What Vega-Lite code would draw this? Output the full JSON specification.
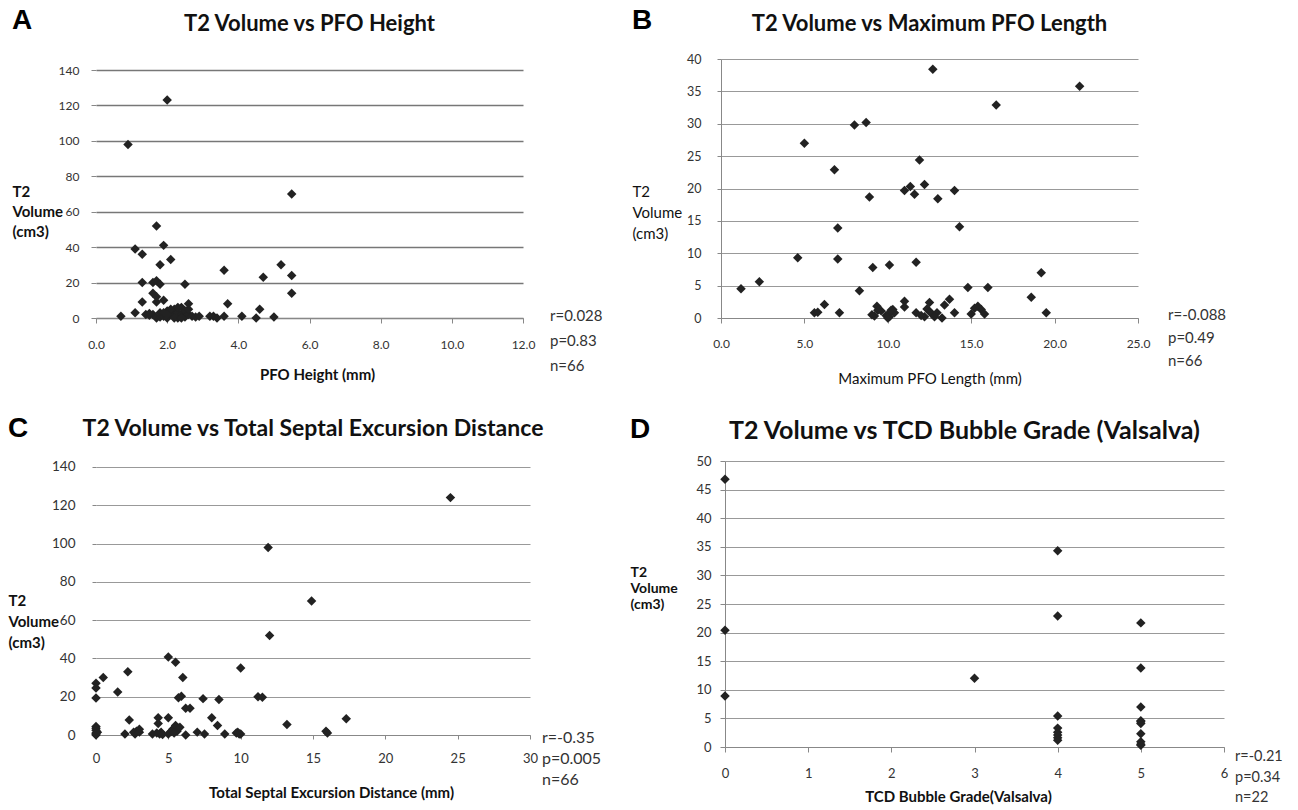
{
  "$schema": "https://vega.github.io/schema/vega-lite/v6.json",
  "padding": {"left": 8, "top": 7, "right": 0, "bottom": 0},
  "background": "white",
  "config": {
    "view": {"stroke": null},
    "font": "Lato",
    "axis": {"labelFont": "Lato", "titleFont": "Lato", "labelColor": "#333", "titleColor": "#111", "domainColor": "#888", "tickColor": "#888", "labelFlush": false, "labelOverlap": false}
  },
  "datasets": {
    "A": [
      {"pfo_height": 0.9, "t2_volume": 98}, {"pfo_height": 2.0, "t2_volume": 123}, {"pfo_height": 5.5, "t2_volume": 70}, {"pfo_height": 1.7, "t2_volume": 52},
      {"pfo_height": 1.1, "t2_volume": 39}, {"pfo_height": 1.3, "t2_volume": 36}, {"pfo_height": 1.9, "t2_volume": 41}, {"pfo_height": 2.1, "t2_volume": 33},
      {"pfo_height": 1.8, "t2_volume": 30}, {"pfo_height": 1.3, "t2_volume": 20}, {"pfo_height": 1.6, "t2_volume": 20}, {"pfo_height": 1.7, "t2_volume": 21},
      {"pfo_height": 1.8, "t2_volume": 19}, {"pfo_height": 2.5, "t2_volume": 19}, {"pfo_height": 3.6, "t2_volume": 27}, {"pfo_height": 4.7, "t2_volume": 23},
      {"pfo_height": 5.2, "t2_volume": 30}, {"pfo_height": 5.5, "t2_volume": 24}, {"pfo_height": 5.5, "t2_volume": 14}, {"pfo_height": 1.3, "t2_volume": 9},
      {"pfo_height": 1.6, "t2_volume": 14}, {"pfo_height": 1.7, "t2_volume": 9}, {"pfo_height": 1.9, "t2_volume": 10}, {"pfo_height": 2.6, "t2_volume": 8},
      {"pfo_height": 3.7, "t2_volume": 8}, {"pfo_height": 4.6, "t2_volume": 5}, {"pfo_height": 0.7, "t2_volume": 1}, {"pfo_height": 1.1, "t2_volume": 3},
      {"pfo_height": 3.2, "t2_volume": 1}, {"pfo_height": 3.3, "t2_volume": 1}, {"pfo_height": 3.4, "t2_volume": 0}, {"pfo_height": 3.6, "t2_volume": 1},
      {"pfo_height": 4.1, "t2_volume": 1}, {"pfo_height": 4.5, "t2_volume": 0}, {"pfo_height": 5.0, "t2_volume": 0.5}, {"pfo_height": 1.7, "t2_volume": 12},
      {"pfo_height": 1.4, "t2_volume": 2}, {"pfo_height": 1.5, "t2_volume": 1.5}, {"pfo_height": 1.6, "t2_volume": 2}, {"pfo_height": 1.7, "t2_volume": 0},
      {"pfo_height": 1.8, "t2_volume": 3}, {"pfo_height": 1.8, "t2_volume": 0.5}, {"pfo_height": 1.9, "t2_volume": 1}, {"pfo_height": 2.0, "t2_volume": 4},
      {"pfo_height": 2.0, "t2_volume": 0}, {"pfo_height": 2.1, "t2_volume": 2}, {"pfo_height": 2.2, "t2_volume": 5}, {"pfo_height": 2.2, "t2_volume": 1},
      {"pfo_height": 2.3, "t2_volume": 3}, {"pfo_height": 2.3, "t2_volume": 0}, {"pfo_height": 2.4, "t2_volume": 6}, {"pfo_height": 2.4, "t2_volume": 2},
      {"pfo_height": 2.5, "t2_volume": 4}, {"pfo_height": 2.5, "t2_volume": 0.5}, {"pfo_height": 2.6, "t2_volume": 2}, {"pfo_height": 2.7, "t2_volume": 1},
      {"pfo_height": 2.8, "t2_volume": 0.5}, {"pfo_height": 2.2, "t2_volume": 0}, {"pfo_height": 2.1, "t2_volume": 5}, {"pfo_height": 1.9, "t2_volume": 3},
      {"pfo_height": 2.4, "t2_volume": 0}, {"pfo_height": 2.3, "t2_volume": 6}, {"pfo_height": 2.6, "t2_volume": 5}, {"pfo_height": 1.5, "t2_volume": 2.5},
      {"pfo_height": 2.9, "t2_volume": 1}, {"pfo_height": 2.0, "t2_volume": 2}
    ],
    "B": [
      {"max_pfo_length": 1.2, "t2_volume": 4.5}, {"max_pfo_length": 2.3, "t2_volume": 5.6}, {"max_pfo_length": 5.0, "t2_volume": 27.0}, {"max_pfo_length": 4.6, "t2_volume": 9.3},
      {"max_pfo_length": 6.8, "t2_volume": 22.9}, {"max_pfo_length": 7.0, "t2_volume": 13.9}, {"max_pfo_length": 7.0, "t2_volume": 9.1}, {"max_pfo_length": 8.0, "t2_volume": 29.8},
      {"max_pfo_length": 8.7, "t2_volume": 30.2}, {"max_pfo_length": 8.3, "t2_volume": 4.2}, {"max_pfo_length": 8.9, "t2_volume": 18.7}, {"max_pfo_length": 9.1, "t2_volume": 7.8},
      {"max_pfo_length": 10.1, "t2_volume": 8.2}, {"max_pfo_length": 11.0, "t2_volume": 19.7}, {"max_pfo_length": 11.35, "t2_volume": 20.3}, {"max_pfo_length": 11.6, "t2_volume": 19.1},
      {"max_pfo_length": 11.9, "t2_volume": 24.4}, {"max_pfo_length": 12.2, "t2_volume": 20.6}, {"max_pfo_length": 12.7, "t2_volume": 38.4}, {"max_pfo_length": 13.0, "t2_volume": 18.4},
      {"max_pfo_length": 11.7, "t2_volume": 8.6}, {"max_pfo_length": 14.0, "t2_volume": 19.7}, {"max_pfo_length": 14.3, "t2_volume": 14.1}, {"max_pfo_length": 14.8, "t2_volume": 4.7},
      {"max_pfo_length": 21.5, "t2_volume": 35.8}, {"max_pfo_length": 16.5, "t2_volume": 32.9}, {"max_pfo_length": 19.2, "t2_volume": 7.0}, {"max_pfo_length": 16.0, "t2_volume": 4.7},
      {"max_pfo_length": 18.6, "t2_volume": 3.2}, {"max_pfo_length": 19.5, "t2_volume": 0.8},
      {"max_pfo_length": 5.6, "t2_volume": 0.8}, {"max_pfo_length": 5.8, "t2_volume": 0.9}, {"max_pfo_length": 6.2, "t2_volume": 2.1}, {"max_pfo_length": 7.1, "t2_volume": 0.8},
      {"max_pfo_length": 9.05, "t2_volume": 0.5}, {"max_pfo_length": 9.35, "t2_volume": 1.8}, {"max_pfo_length": 9.6, "t2_volume": 1.1}, {"max_pfo_length": 9.9, "t2_volume": 0.4},
      {"max_pfo_length": 10.1, "t2_volume": 0.7}, {"max_pfo_length": 10.1, "t2_volume": 0.2}, {"max_pfo_length": 10.4, "t2_volume": 0.8}, {"max_pfo_length": 10.3, "t2_volume": 1.3},
      {"max_pfo_length": 11.0, "t2_volume": 2.6}, {"max_pfo_length": 11.0, "t2_volume": 1.7}, {"max_pfo_length": 11.7, "t2_volume": 0.8}, {"max_pfo_length": 12.2, "t2_volume": 0.2},
      {"max_pfo_length": 12.35, "t2_volume": 1.4}, {"max_pfo_length": 12.5, "t2_volume": 2.4}, {"max_pfo_length": 12.65, "t2_volume": 0.6}, {"max_pfo_length": 12.95, "t2_volume": 0.8},
      {"max_pfo_length": 13.25, "t2_volume": 0.0}, {"max_pfo_length": 13.4, "t2_volume": 2.0}, {"max_pfo_length": 13.7, "t2_volume": 2.9}, {"max_pfo_length": 14.0, "t2_volume": 0.8},
      {"max_pfo_length": 15.0, "t2_volume": 0.6}, {"max_pfo_length": 15.4, "t2_volume": 1.8}, {"max_pfo_length": 15.6, "t2_volume": 1.3}, {"max_pfo_length": 15.8, "t2_volume": 0.6},
      {"max_pfo_length": 9.4, "t2_volume": 1.2}, {"max_pfo_length": 10.2, "t2_volume": 1.2}, {"max_pfo_length": 12.5, "t2_volume": 1.0}, {"max_pfo_length": 12.0, "t2_volume": 0.4},
      {"max_pfo_length": 10.0, "t2_volume": 0.0}, {"max_pfo_length": 9.2, "t2_volume": 0.3}, {"max_pfo_length": 15.2, "t2_volume": 1.5}, {"max_pfo_length": 12.8, "t2_volume": 0.2}
    ],
    "C": [
      {"septal_excursion": 11.9, "t2_volume": 98}, {"septal_excursion": 14.9, "t2_volume": 70}, {"septal_excursion": 12.0, "t2_volume": 52}, {"septal_excursion": 10.0, "t2_volume": 35},
      {"septal_excursion": 5.0, "t2_volume": 40.7}, {"septal_excursion": 5.5, "t2_volume": 38}, {"septal_excursion": 6.0, "t2_volume": 30}, {"septal_excursion": 2.2, "t2_volume": 33},
      {"septal_excursion": 0.5, "t2_volume": 30}, {"septal_excursion": 0, "t2_volume": 27}, {"septal_excursion": 0, "t2_volume": 24.5}, {"septal_excursion": 0, "t2_volume": 19.3},
      {"septal_excursion": 1.5, "t2_volume": 22.5}, {"septal_excursion": 5.7, "t2_volume": 19.5}, {"septal_excursion": 5.9, "t2_volume": 20.2}, {"septal_excursion": 7.4, "t2_volume": 19},
      {"septal_excursion": 8.5, "t2_volume": 18.5}, {"septal_excursion": 6.2, "t2_volume": 14}, {"septal_excursion": 6.5, "t2_volume": 14}, {"septal_excursion": 11.2, "t2_volume": 20},
      {"septal_excursion": 11.5, "t2_volume": 19.7}, {"septal_excursion": 13.2, "t2_volume": 5.5}, {"septal_excursion": 24.5, "t2_volume": 124}, {"septal_excursion": 17.3, "t2_volume": 8.5},
      {"septal_excursion": 16.0, "t2_volume": 1}, {"septal_excursion": 15.9, "t2_volume": 2},
      {"septal_excursion": 0, "t2_volume": 4.5}, {"septal_excursion": 0, "t2_volume": 2.5}, {"septal_excursion": 0, "t2_volume": 1}, {"septal_excursion": 0, "t2_volume": 0},
      {"septal_excursion": 0, "t2_volume": 3.5}, {"septal_excursion": 2.0, "t2_volume": 0.5}, {"septal_excursion": 2.3, "t2_volume": 7.8}, {"septal_excursion": 2.7, "t2_volume": 0.5},
      {"septal_excursion": 2.8, "t2_volume": 2}, {"septal_excursion": 3.0, "t2_volume": 3}, {"septal_excursion": 3.9, "t2_volume": 0.5}, {"septal_excursion": 4.3, "t2_volume": 9},
      {"septal_excursion": 4.3, "t2_volume": 6}, {"septal_excursion": 4.4, "t2_volume": 0.5}, {"septal_excursion": 5.0, "t2_volume": 9}, {"septal_excursion": 5.0, "t2_volume": 0.5},
      {"septal_excursion": 5.3, "t2_volume": 3}, {"septal_excursion": 5.5, "t2_volume": 5}, {"septal_excursion": 5.7, "t2_volume": 3.5}, {"septal_excursion": 6.2, "t2_volume": 0},
      {"septal_excursion": 7.0, "t2_volume": 1.5}, {"septal_excursion": 7.5, "t2_volume": 0.5}, {"septal_excursion": 8.0, "t2_volume": 9}, {"septal_excursion": 8.4, "t2_volume": 5},
      {"septal_excursion": 8.9, "t2_volume": 0.5}, {"septal_excursion": 9.7, "t2_volume": 1}, {"septal_excursion": 9.9, "t2_volume": 0.5}, {"septal_excursion": 10.0, "t2_volume": 0.5},
      {"septal_excursion": 4.5, "t2_volume": 1.5}, {"septal_excursion": 5.2, "t2_volume": 1.8}, {"septal_excursion": 4.2, "t2_volume": 1}, {"septal_excursion": 2.6, "t2_volume": 1.5},
      {"septal_excursion": 0, "t2_volume": 0.5}, {"septal_excursion": 5.6, "t2_volume": 2}, {"septal_excursion": 4.6, "t2_volume": 0.3}, {"septal_excursion": 5.4, "t2_volume": 1},
      {"septal_excursion": 0.1, "t2_volume": 1.5}, {"septal_excursion": 9.8, "t2_volume": 1.5}, {"septal_excursion": 5.8, "t2_volume": 4}, {"septal_excursion": 3.0, "t2_volume": 1.5}
    ],
    "D": [
      {"tcd_grade": 0, "t2_volume": 46.8}, {"tcd_grade": 0, "t2_volume": 20.4}, {"tcd_grade": 0, "t2_volume": 8.9}, {"tcd_grade": 3, "t2_volume": 12.0},
      {"tcd_grade": 4, "t2_volume": 34.3}, {"tcd_grade": 4, "t2_volume": 22.9}, {"tcd_grade": 4, "t2_volume": 5.4}, {"tcd_grade": 4, "t2_volume": 3.3},
      {"tcd_grade": 4, "t2_volume": 2.6}, {"tcd_grade": 4, "t2_volume": 2.1}, {"tcd_grade": 4, "t2_volume": 1.6}, {"tcd_grade": 4, "t2_volume": 1.2},
      {"tcd_grade": 5, "t2_volume": 21.7}, {"tcd_grade": 5, "t2_volume": 13.8}, {"tcd_grade": 5, "t2_volume": 7.0}, {"tcd_grade": 5, "t2_volume": 4.6},
      {"tcd_grade": 5, "t2_volume": 4.1}, {"tcd_grade": 5, "t2_volume": 4.4}, {"tcd_grade": 5, "t2_volume": 2.3}, {"tcd_grade": 5, "t2_volume": 0.9},
      {"tcd_grade": 5, "t2_volume": 0.5}, {"tcd_grade": 5, "t2_volume": 0.3}
    ]
  },
  "columns": 1,
  "align": "none",
  "spacing": 28,
  "concat": [
    {
      "columns": 2,
      "align": "none",
      "spacing": 29,
      "concat": [
        {
          "title": {"text": "A", "anchor": "start", "frame": "bounds", "font": "Liberation Sans", "fontSize": 28, "fontWeight": "bold", "color": "#000", "offset": -22},
          "vconcat": [{
            "width": 427, "height": 259,
            "title": {"text": "T2 Volume vs PFO Height", "font": "Lato", "fontSize": 22, "fontWeight": "bold", "anchor": "middle", "frame": "group", "offset": 23, "color": "#111"},
            "layer": [
              {
                "data": {"name": "A"},
                "mark": {"type": "point", "shape": "diamond", "filled": true, "size": 90, "color": "#222", "opacity": 1},
                "encoding": {
                  "x": {"field": "pfo_height", "type": "quantitative", "scale": {"domain": [0, 12], "nice": false},
                        "axis": {"values": [0, 2, 4, 6, 8, 10, 12], "tickCount": 30, "format": ".1f", "grid": false, "title": "PFO Height (mm)", "titleFontSize": 15, "titleFontWeight": "bold", "titleX": 221, "titleY": 56, "titleBaseline": "middle", "tickSize": 5, "labelPadding": 16, "labelFontSize": 12}},
                  "y": {"field": "t2_volume", "type": "quantitative", "scale": {"domain": [0, 146.21], "nice": false},
                        "axis": {"values": [0, 20, 40, 60, 80, 100, 120, 140], "tickCount": 30, "domain": false, "title": ["T2", "Volume", "(cm3)"], "titleAngle": 0, "titleAlign": "left", "titleBaseline": "middle", "titleX": -84, "titleY": 132, "titleFontSize": 15, "titleFontWeight": "bold", "titleLineHeight": 20, "grid": true, "gridColor": "#777", "gridWidth": 1.5, "tickSize": 5, "labelPadding": 12, "labelFontSize": 12}}
                }
              },
              {
                "mark": {"type": "rule", "color": "#888", "strokeWidth": 1},
                "encoding": {"x": {"datum": 0}, "y": {"datum": 0}, "y2": {"datum": 140}}
              },
              {
                "data": {"values": [{"stats": "r=0.028\np=0.83\nn=66"}]},
                "mark": {"type": "text", "lineBreak": "\n", "align": "left", "baseline": "middle", "dx": 27, "dy": -2, "fontSize": 15, "lineHeight": 25, "color": "#333", "font": "Lato"},
                "encoding": {"x": {"datum": 12}, "y": {"datum": 0}, "text": {"field": "stats", "type": "nominal"}}
              }
            ]
          }]
        },
        {
          "title": {"text": "B", "anchor": "start", "frame": "bounds", "font": "Liberation Sans", "fontSize": 28, "fontWeight": "bold", "color": "#000", "offset": -22},
          "vconcat": [{
            "width": 417, "height": 259,
            "title": {"text": "T2 Volume vs Maximum PFO Length", "font": "Lato", "fontSize": 22, "fontWeight": "bold", "anchor": "middle", "frame": "group", "offset": 17, "color": "#111"},
            "layer": [
              {
                "data": {"name": "B"},
                "mark": {"type": "point", "shape": "diamond", "filled": true, "size": 90, "color": "#222", "opacity": 1},
                "encoding": {
                  "x": {"field": "max_pfo_length", "type": "quantitative", "scale": {"domain": [0, 25], "nice": false},
                        "axis": {"values": [0, 5, 10, 15, 20, 25], "tickCount": 30, "format": ".1f", "grid": false, "title": "Maximum PFO Length (mm)", "titleFontSize": 15, "titleFontWeight": "normal", "titleY": 60, "titleBaseline": "middle", "tickSize": 5, "labelPadding": 15, "labelFontSize": 12}},
                  "y": {"field": "t2_volume", "type": "quantitative", "scale": {"domain": [0, 40], "nice": false},
                        "axis": {"values": [0, 5, 10, 15, 20, 25, 30, 35, 40], "tickCount": 30, "title": ["T2", "Volume", "(cm3)"], "titleAngle": 0, "titleAlign": "left", "titleBaseline": "middle", "titleX": -89, "titleY": 132, "titleFontSize": 15, "titleFontWeight": "normal", "titleLineHeight": 21, "grid": true, "gridColor": "#999", "gridWidth": 1, "tickSize": 4, "labelPadding": 16, "labelFontSize": 12.5}}
                }
              },
              {
                "data": {"values": [{"stats": "r=-0.088\np=0.49\nn=66"}]},
                "mark": {"type": "text", "lineBreak": "\n", "align": "left", "baseline": "middle", "dx": 30, "dy": -3, "fontSize": 15, "lineHeight": 23, "color": "#333", "font": "Lato"},
                "encoding": {"x": {"datum": 25}, "y": {"datum": 0}, "text": {"field": "stats", "type": "nominal"}}
              }
            ]
          }]
        }
      ]
    },
    {
      "columns": 2,
      "align": "none",
      "spacing": 28,
      "concat": [
        {
          "title": {"text": "C", "anchor": "start", "frame": "bounds", "font": "Liberation Sans", "fontSize": 28, "fontWeight": "bold", "color": "#000", "offset": -25},
          "vconcat": [{
            "width": 434, "height": 274,
            "title": {"text": "T2 Volume vs Total Septal Excursion Distance", "font": "Lato", "fontSize": 23, "fontWeight": "bold", "anchor": "middle", "frame": "group", "offset": 19, "color": "#111"},
            "layer": [
              {
                "data": {"name": "C"},
                "mark": {"type": "point", "shape": "diamond", "filled": true, "size": 90, "color": "#222", "opacity": 1},
                "encoding": {
                  "x": {"field": "septal_excursion", "type": "quantitative", "scale": {"domain": [0, 30], "nice": false},
                        "axis": {"values": [0, 5, 10, 15, 20, 25, 30], "tickCount": 30, "format": "d", "grid": false, "title": "Total Septal Excursion Distance (mm)", "titleFontSize": 15, "titleFontWeight": "bold", "titleX": 235, "titleY": 57, "titleBaseline": "middle", "tickSize": 4, "labelPadding": 13, "labelFontSize": 13}},
                  "y": {"field": "t2_volume", "type": "quantitative", "scale": {"domain": [0, 143.13], "nice": false},
                        "axis": {"values": [0, 20, 40, 60, 80, 100, 120, 140], "tickCount": 30, "domain": false, "title": ["T2", "Volume", "(cm3)"], "titleAngle": 0, "titleAlign": "left", "titleBaseline": "middle", "titleX": -88, "titleY": 139, "titleFontSize": 15, "titleFontWeight": "bold", "titleLineHeight": 21, "grid": true, "gridColor": "#999", "gridWidth": 1, "tickSize": 4, "labelPadding": 17, "labelFontSize": 13.5}}
                }
              },
              {
                "mark": {"type": "rule", "color": "#888", "strokeWidth": 1},
                "encoding": {"x": {"datum": 0}, "y": {"datum": 0}, "y2": {"datum": 140}}
              },
              {
                "mark": {"type": "rule", "strokeDash": [3, 2], "color": "#222", "strokeWidth": 1},
                "encoding": {"x": {"datum": 9.9}, "y": {"datum": 0}, "y2": {"datum": 108}}
              },
              {
                "data": {"values": [{"stats": "r=-0.35\np=0.005\nn=66"}]},
                "mark": {"type": "text", "lineBreak": "\n", "align": "left", "baseline": "middle", "dx": 12, "dy": 3, "fontSize": 16, "lineHeight": 21, "color": "#333", "font": "Lato"},
                "encoding": {"x": {"datum": 30}, "y": {"datum": 0}, "text": {"field": "stats", "type": "nominal"}}
              }
            ]
          }]
        },
        {
          "title": {"text": "D", "anchor": "start", "frame": "bounds", "font": "Liberation Sans", "fontSize": 28, "fontWeight": "bold", "color": "#000", "offset": -25},
          "vconcat": [{
            "width": 499, "height": 286,
            "title": {"text": "T2 Volume vs TCD Bubble Grade (Valsalva)", "font": "Lato", "fontSize": 25, "fontWeight": "bold", "anchor": "middle", "frame": "group", "offset": 11, "dx": -10, "color": "#111"},
            "layer": [
              {
                "data": {"name": "D"},
                "mark": {"type": "point", "shape": "diamond", "filled": true, "size": 90, "color": "#222", "opacity": 1},
                "encoding": {
                  "x": {"field": "tcd_grade", "type": "quantitative", "scale": {"domain": [0, 6], "nice": false},
                        "axis": {"values": [0, 1, 2, 3, 4, 5, 6], "tickCount": 30, "format": "d", "grid": false, "title": "TCD Bubble Grade(Valsalva)", "titleFontSize": 15, "titleFontWeight": "bold", "titleX": 233, "titleY": 49, "titleBaseline": "middle", "tickSize": 5, "labelPadding": 15, "labelFontSize": 13}},
                  "y": {"field": "t2_volume", "type": "quantitative", "scale": {"domain": [0, 50], "nice": false},
                        "axis": {"values": [0, 5, 10, 15, 20, 25, 30, 35, 40, 45, 50], "tickCount": 30, "title": ["T2", "Volume", "(cm3)"], "titleAngle": 0, "titleAlign": "left", "titleBaseline": "middle", "titleX": -95, "titleY": 111, "titleFontSize": 14, "titleFontWeight": "bold", "titleLineHeight": 16, "grid": true, "gridColor": "#999", "gridWidth": 1, "tickSize": 5, "labelPadding": 9, "labelFontSize": 13}}
                }
              },
              {
                "data": {"values": [{"stats": "r=-0.21\np=0.34\nn=22"}]},
                "mark": {"type": "text", "lineBreak": "\n", "align": "left", "baseline": "middle", "dx": 11, "dy": 10, "fontSize": 14.5, "lineHeight": 20.5, "color": "#333", "font": "Lato"},
                "encoding": {"x": {"datum": 6}, "y": {"datum": 0}, "text": {"field": "stats", "type": "nominal"}}
              }
            ]
          }]
        }
      ]
    }
  ]
}
